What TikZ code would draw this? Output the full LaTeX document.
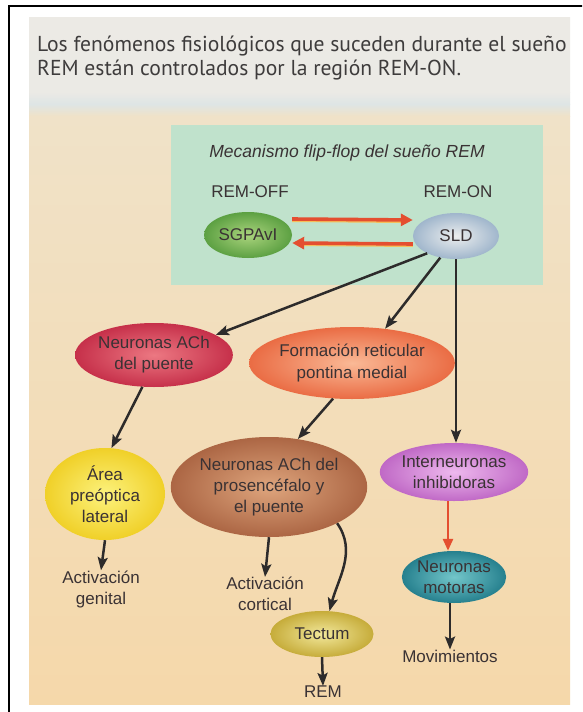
\documentclass[tikz,border=0pt]{standalone}
\usepackage{fontspec}
\setmainfont{Liberation Sans}
\newfontfamily\headfont{PT Sans}
\usetikzlibrary{arrows.meta,shapes.geometric,calc}

\definecolor{ink}{RGB}{58,50,52}
\definecolor{headink}{RGB}{62,60,60}
\definecolor{arrowgray}{RGB}{45,43,43}
\definecolor{flipred}{RGB}{228,78,48}
\definecolor{flipglow}{RGB}{245,190,90}
\definecolor{mint}{RGB}{192,226,204}
\definecolor{paperTop}{RGB}{236,234,229}
\definecolor{paperBand}{RGB}{222,229,229}
\definecolor{paperMid}{RGB}{240,226,200}
\definecolor{paperLow}{RGB}{245,216,170}

\tikzset{
  lbl/.style={font=\fontsize{17}{21}\selectfont, text=ink, align=center, inner sep=0pt},
  blob/.style={ellipse, lbl, inner sep=0pt},
  arr/.style={draw=arrowgray, line width=2.5pt, -{Stealth[length=13pt,width=10pt,inset=2.5pt]}},
  redarr/.style={draw=flipred, line width=3.6pt, -{Triangle[length=12pt,width=12pt]}},
  glowline/.style={draw=flipglow, line width=2pt},
}

\begin{document}
\begin{tikzpicture}[x=1pt,y=-1pt]
\clip (0,0) rectangle (582,712);
\fill[white] (0,0) rectangle (582,712);

% photographed page
\shade[top color=paperTop, bottom color=paperTop!92!paperBand] (29,17) rectangle (570,92);
\shade[top color=paperTop!92!paperBand, bottom color=paperBand] (29,92) rectangle (570,104);
\shade[top color=paperBand, bottom color=paperMid] (29,104) rectangle (570,116);
\shade[top color=paperMid, bottom color=paperLow] (29,116) rectangle (570,704);

% frame
\draw[line width=2.6pt] (9,6) rectangle (640,760);

% heading
\node[font=\headfont\fontsize{21.6}{26}\selectfont, text=headink, anchor=west, inner sep=0pt] (head1) at (37,46) {Los fenómenos fisiológicos que suceden durante el sueño};
\node[font=\headfont\fontsize{21.6}{26}\selectfont, text=headink, anchor=west, inner sep=0pt] (head2) at (37,70) {REM están controlados por la región REM-ON.};

% flip-flop panel
\fill[mint] (171,125) rectangle (543,285);
\node[lbl, font=\itshape\fontsize{17.5}{21}\selectfont] (title) at (347,153) {Mecanismo flip-flop del sueño REM};
\node[lbl] (remoff) at (250,192) {REM-OFF};
\node[lbl] (remon) at (458,192) {REM-ON};

\node[blob, minimum width=88pt, minimum height=46pt, inner color={rgb,255:red,170;green,212;blue,125}, outer color={rgb,255:red,92;green,160;blue,66}] (sgpa) at (248,235) {SGPAvI};
\node[blob, minimum width=86pt, minimum height=46pt, inner color={rgb,255:red,236;green,238;blue,238}, outer color={rgb,255:red,160;green,182;blue,204}] (sld) at (456,236) {SLD};

% second row
\node[blob, minimum width=152pt, minimum height=64pt, inner color={rgb,255:red,236;green,120;blue,130}, outer color={rgb,255:red,198;green,48;blue,74}] (ach) at (154,355) {Neuronas ACh\\del puente};
\node[blob, minimum width=171pt, minimum height=72pt, inner color={rgb,255:red,250;green,185;blue,150}, outer color={rgb,255:red,234;green,108;blue,68}] (frm) at (352,363) {Formación reticular\\pontina medial};

% third row
\node[blob, minimum width=120pt, minimum height=92pt, inner color={rgb,255:red,252;green,242;blue,125}, outer color={rgb,255:red,240;green,208;blue,40}] (area) at (105,494) {Área\\preóptica\\lateral};
\node[blob, minimum width=162pt, minimum height=100pt, inner color={rgb,255:red,222;green,165;blue,125}, outer color={rgb,255:red,172;green,102;blue,68}] (pros) at (269,487) {Neuronas ACh del\\prosencéfalo y\\el puente};
\node[blob, minimum width=130pt, minimum height=58pt, inner color={rgb,255:red,238;green,185;blue,238}, outer color={rgb,255:red,192;green,105;blue,198}] (inter) at (454,472) {Interneuronas\\inhibidoras};

% lower row
\node[blob, minimum width=104pt, minimum height=52pt, inner color={rgb,255:red,115;green,198;blue,202}, outer color={rgb,255:red,38;green,128;blue,142}] (moto) at (454,577) {Neuronas\\motoras};
\node[blob, minimum width=103pt, minimum height=46pt, inner color={rgb,255:red,242;green,232;blue,155}, outer color={rgb,255:red,198;green,172;blue,58}] (tect) at (322,634) {Tectum};

\node[lbl] (genital) at (101,589) {Activación\\genital};
\node[lbl] (cortical) at (265,594) {Activación\\cortical};
\node[lbl] (movi) at (450,656) {Movimientos};
\node[lbl] (rem) at (323,692) {REM};

% flip-flop arrows
\draw[glowline] ([yshift=14pt]sgpa.east) -- ([yshift=14pt,xshift=-8pt]sld.west);
\draw[redarr] ([yshift=16pt]sgpa.east) -- ([yshift=16pt]sld.west);
\draw[glowline] ([yshift=-10pt]sld.west) -- ([yshift=-10pt,xshift=8pt]sgpa.east);
\draw[redarr] ([yshift=-8pt]sld.west) -- ([yshift=-8pt]sgpa.east);

% projections from SLD
\draw[arr] (sld.211) -- (ach.18);
\draw[arr] (sld.234) -- (frm.46);
\draw[arr] (sld.south) -- (sld.south |- inter.north);

\draw[arr] (ach.250) -- (area.82);
\draw[arr] (frm.242) -- (pros.59);

\draw[arr] (area.south) -- (genital.north);
\draw[arr] (pros.south) -- (cortical.north);
\draw[arr] (pros.-28) to[out=-55,in=75] (tect.72);

\draw[redarr, line width=2.6pt, -{Triangle[length=12pt,width=10pt]}] ([xshift=-6pt]inter.south) -- ([xshift=-6pt]inter.south |- moto.north);
\draw[arr] (moto.south -| movi.north) -- (movi.north);
\draw[arr] (tect.south) -- (rem.north);
\end{tikzpicture}
\end{document}
